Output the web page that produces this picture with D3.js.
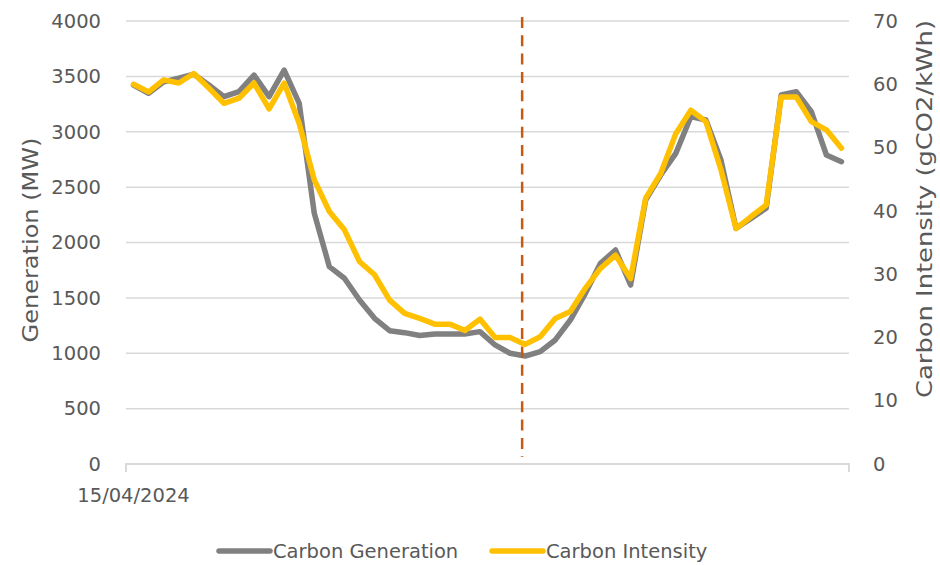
<!DOCTYPE html>
<html>
<head>
<meta charset="utf-8">
<script src="https://cdn.jsdelivr.net/npm/d3@7"></script>
<style>
  body { margin: 0; background: #fff; }
  text { font-family: "DejaVu Sans", sans-serif; fill: #595959; }
</style>
</head>
<body>
<svg id="chart" width="940" height="565"></svg>
<script>
// half-hourly periods of the day
var periods = d3.range(48);
var dateLabel = "15/04/2024";
// carbon generation (MW)
var generation = [3422, 3347, 3450, 3483, 3520, 3422, 3317, 3362, 3512, 3317, 3557, 3256,
	2264, 1782, 1677, 1481, 1316, 1204, 1186, 1160, 1174, 1174, 1174, 1195,
	1075, 1000, 975, 1014, 1120, 1300, 1541, 1812, 1932, 1616, 2384, 2609,
	2805, 3136, 3106, 2745, 2128, 2218, 2309, 3332, 3362, 3181, 2790, 2730];
// carbon intensity (gCO2/kWh)
var intensity = [60, 58.8, 60.7, 60.2, 61.7, 59.4, 57.0, 57.8, 60.2, 56.1, 60.2, 53.8,
	44.9, 39.9, 37.0, 32.0, 29.9, 25.9, 23.8, 23.0, 22.1, 22.1, 21.1, 22.9,
	20.0, 20.0, 18.9, 20.1, 23.0, 24.1, 27.8, 30.9, 33.0, 29.3, 42.0, 45.9,
	52.2, 55.9, 54.1, 46.5, 37.2, 39.1, 40.9, 58.0, 58.0, 54.1, 52.8, 49.9];
var leftTicks = [0, 500, 1000, 1500, 2000, 2500, 3000, 3500, 4000];
var rightTicks = [0, 10, 20, 30, 40, 50, 60, 70];
var markerPeriod = 25.8; // vertical dashed marker
var seriesNames = ["Carbon Generation", "Carbon Intensity"];
var seriesColors = ["#808080", "#FFC000"];

var svg = d3.select("#chart");
var plotLeft = 126, plotRight = 849, plotTop = 21, plotBottom = 464;

var x = d3.scaleLinear().domain([-0.5, 47.5]).range([plotLeft, plotRight]);
var yL = d3.scaleLinear().domain([0, 4000]).range([plotBottom, plotTop]);
var yR = d3.scaleLinear().domain([0, 70]).range([plotBottom, plotTop]);

// gridlines
svg.append("g").selectAll("line")
	.data(leftTicks.slice(1))
	.enter().append("line")
	.attr("x1", plotLeft).attr("x2", plotRight)
	.attr("y1", function (d) { return yL(d); })
	.attr("y2", function (d) { return yL(d); })
	.attr("stroke", "#d9d9d9")
	.attr("stroke-width", 1.5);

// left axis
var axL = svg.append("g")
	.attr("transform", "translate(" + plotLeft + ",0)")
	.call(d3.axisLeft(yL).tickValues(leftTicks).tickFormat(d3.format("d")).tickSize(0).tickPadding(25));
axL.select(".domain").remove();
axL.selectAll("text").style("font-size", "19.5px").style("font-family", "DejaVu Sans").attr("fill", "#595959");

// right axis
var axR = svg.append("g")
	.attr("transform", "translate(" + plotRight + ",0)")
	.call(d3.axisRight(yR).tickValues(rightTicks).tickFormat(d3.format("d")).tickSize(0).tickPadding(24));
axR.select(".domain").remove();
axR.selectAll("text").style("font-size", "19.5px").style("font-family", "DejaVu Sans").attr("fill", "#595959");

// x axis line with end ticks
svg.append("path")
	.attr("d", "M" + plotLeft + "," + (plotBottom + 8) + "V" + plotBottom + "H" + plotRight + "V" + (plotBottom + 8))
	.attr("fill", "none")
	.attr("stroke", "#d9d9d9")
	.attr("stroke-width", 2);

svg.append("text")
	.attr("x", x(periods[0]))
	.attr("y", 502)
	.attr("text-anchor", "middle")
	.style("font-size", "19.5px")
	.text(dateLabel);

// axis titles
svg.append("text")
	.attr("transform", "translate(38,240) rotate(-90)")
	.attr("text-anchor", "middle")
	.attr("textLength", 205)
	.attr("lengthAdjust", "spacingAndGlyphs")
	.style("font-size", "21px")
	.text("Generation (MW)");
svg.append("text")
	.attr("transform", "translate(932,209) rotate(-90)")
	.attr("text-anchor", "middle")
	.attr("textLength", 378)
	.attr("lengthAdjust", "spacingAndGlyphs")
	.style("font-size", "21px")
	.text("Carbon Intensity (gCO2/kWh)");

// lines
var lineL = d3.line()
	.x(function (d, i) { return x(periods[i]); })
	.y(function (d) { return yL(d); });
var lineR = d3.line()
	.x(function (d, i) { return x(periods[i]); })
	.y(function (d) { return yR(d); });

svg.append("path")
	.datum(generation)
	.attr("d", lineL)
	.attr("fill", "none")
	.attr("stroke", seriesColors[0])
	.attr("stroke-width", 5.5)
	.attr("stroke-linejoin", "round")
	.attr("stroke-linecap", "round");

// dashed marker
svg.append("line")
	.attr("x1", x(markerPeriod)).attr("x2", x(markerPeriod))
	.attr("y1", 17).attr("y2", 457)
	.attr("stroke", "#C55A11")
	.attr("stroke-width", 2.5)
	.attr("stroke-dasharray", "11,7.3");

svg.append("path")
	.datum(intensity)
	.attr("d", lineR)
	.attr("fill", "none")
	.attr("stroke", seriesColors[1])
	.attr("stroke-width", 5.5)
	.attr("stroke-linejoin", "round")
	.attr("stroke-linecap", "round");

// legend
var legendX = [219, 492];
var lg = svg.append("g").selectAll("g")
	.data(seriesNames)
	.enter().append("g")
	.attr("transform", function (d, i) { return "translate(" + legendX[i] + ",551)"; });
lg.append("line")
	.attr("x1", 0).attr("x2", 51)
	.attr("stroke", function (d, i) { return seriesColors[i]; })
	.attr("stroke-width", 5.5)
	.attr("stroke-linecap", "round");
lg.append("text")
	.attr("x", 54)
	.attr("y", 7)
	.style("font-size", "19.5px")
	.text(function (d) { return d; });
</script>
</body>
</html>
